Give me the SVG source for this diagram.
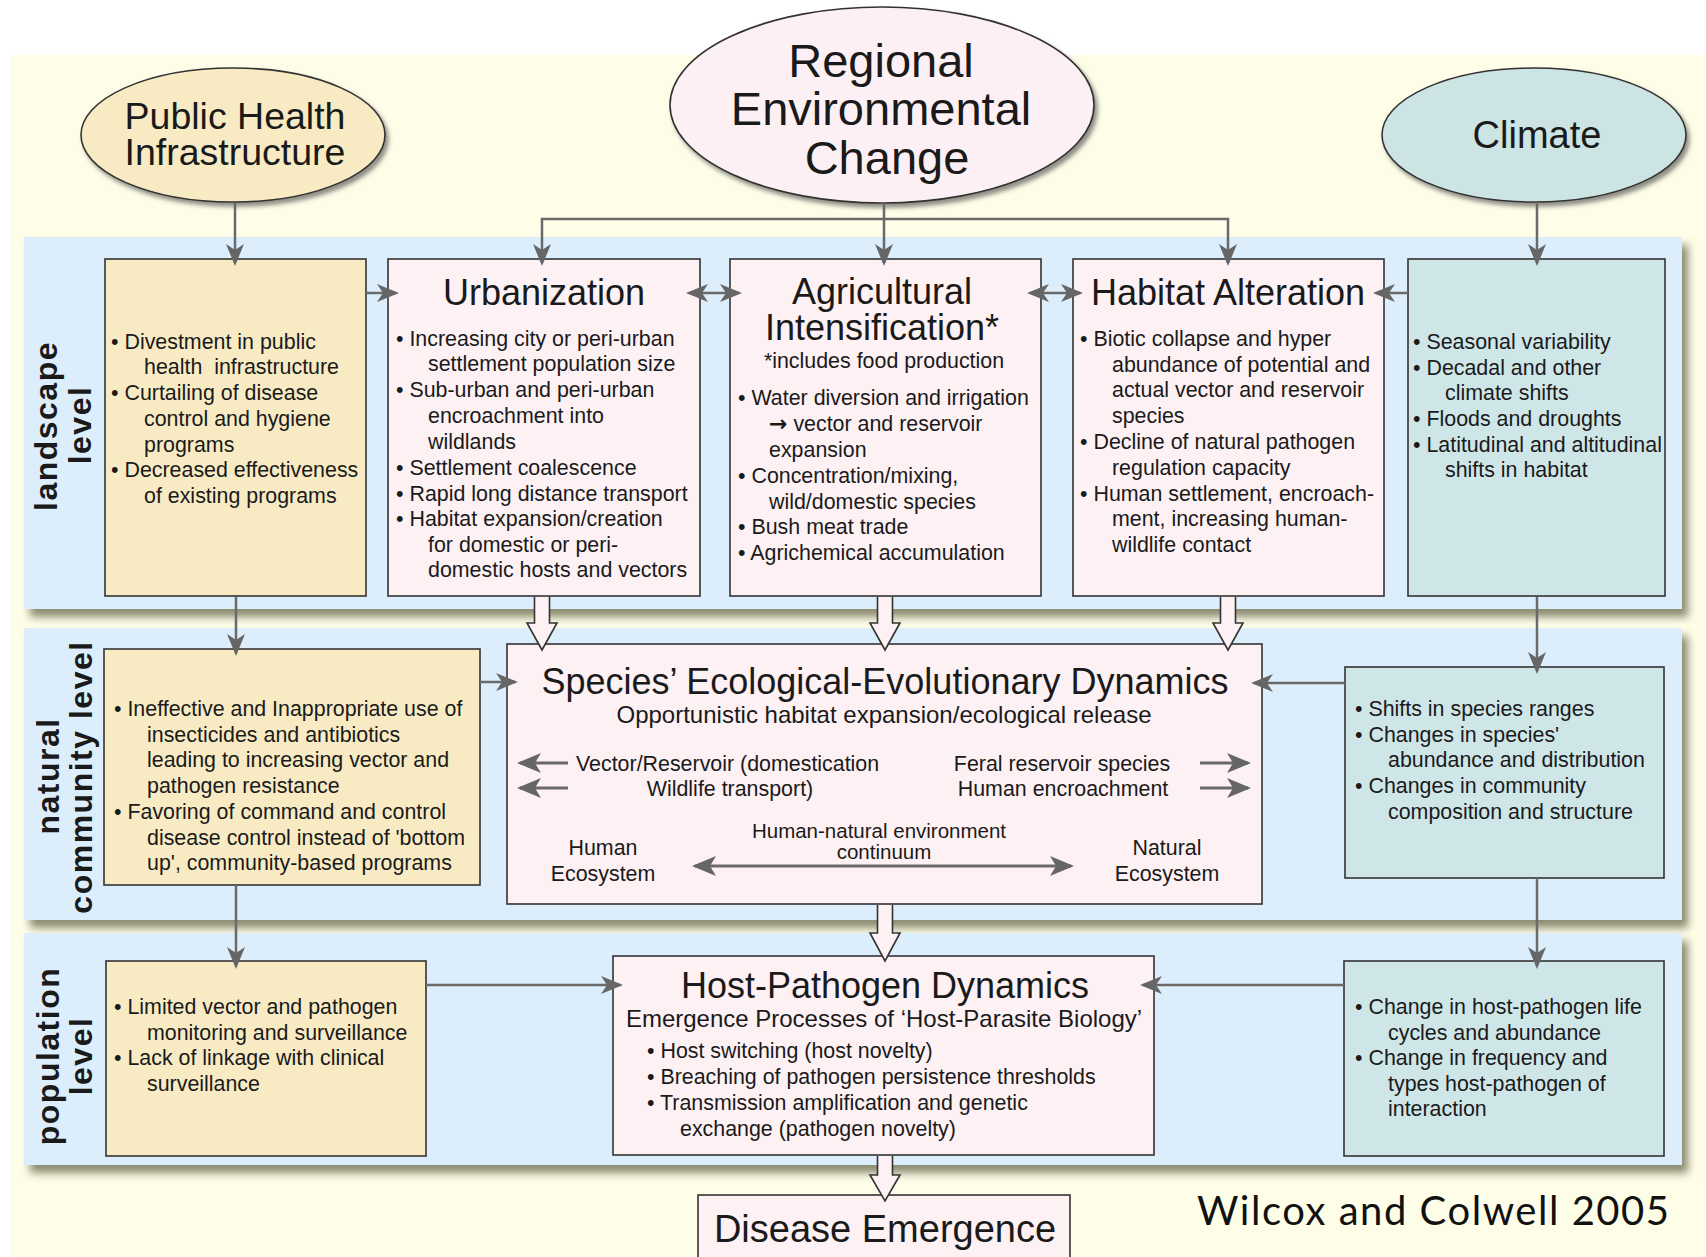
<svg xmlns="http://www.w3.org/2000/svg" width="1706" height="1257" viewBox="0 0 1706 1257">
<defs>
  <style>
    .t{font-family:"Liberation Sans",Arial,Helvetica,sans-serif;fill:#1a1a1a}
    .b{font-size:21.4px}
    .h{font-size:36px;text-anchor:middle}
    .s{font-size:24px;text-anchor:middle}
    .m{text-anchor:middle}
    .lv{font-family:"Liberation Sans",Arial,Helvetica,sans-serif;font-weight:bold;font-size:32px;letter-spacing:1.5px;text-anchor:middle;fill:#1a1a1a}
    .band{fill:#DCEEFB}
    .ph{fill:#F8EBC4;stroke:#333;stroke-width:1.6}
    .pk{fill:#FDF1F4;stroke:#333;stroke-width:1.6}
    .cl{fill:#CFE6E8;stroke:#333;stroke-width:1.6}
    .ln{fill:none;stroke:#6a6a6a;stroke-width:2.5}
    .ln2{fill:none;stroke:#6a6a6a;stroke-width:3}
    .blk{fill:#FDF1F4;stroke:#333;stroke-width:1.6}
    .arr{font-family:"DejaVu Sans",sans-serif;font-weight:bold;font-size:22px}
  </style>
  <marker id="ah" viewBox="-22 -10 26 20" refX="0" refY="0" markerWidth="26" markerHeight="20" markerUnits="userSpaceOnUse" orient="auto-start-reverse">
    <path d="M3,0 L-19,-9 L-13,0 L-19,9 Z" fill="#666"/>
  </marker>
  <marker id="ah2" viewBox="-24 -11 28 22" refX="0" refY="0" markerWidth="28" markerHeight="22" markerUnits="userSpaceOnUse" orient="auto-start-reverse">
    <path d="M3,0 L-21,-10 L-15,0 L-21,10 Z" fill="#666"/>
  </marker>
  <filter id="bandShadow" x="-5%" y="-10%" width="115%" height="130%">
    <feDropShadow dx="6" dy="8" stdDeviation="4" flood-color="#6e6e55" flood-opacity="0.8"/>
  </filter>
  <filter id="ovalShadow" x="-10%" y="-10%" width="125%" height="130%">
    <feDropShadow dx="3" dy="4" stdDeviation="2" flood-color="#444" flood-opacity="0.6"/>
  </filter>
</defs>

<!-- page -->
<rect x="0" y="0" width="1706" height="1257" fill="#ffffff"/>
<rect x="11" y="55" width="1695" height="1202" fill="#FEFDE8"/>

<!-- level bands -->
<g id="bands">
  <rect class="band" x="24" y="237" width="1658" height="372" filter="url(#bandShadow)"/>
  <rect class="band" x="24" y="628" width="1658" height="292" filter="url(#bandShadow)"/>
  <rect class="band" x="24" y="933" width="1658" height="232" filter="url(#bandShadow)"/>
  <text class="lv" transform="translate(57,426) rotate(-90)">landscape</text>
  <text class="lv" transform="translate(91,425) rotate(-90)">level</text>
  <text class="lv" transform="translate(59,776) rotate(-90)">natural</text>
  <text class="lv" transform="translate(92,777) rotate(-90)">community level</text>
  <text class="lv" transform="translate(59,1056) rotate(-90)">population</text>
  <text class="lv" transform="translate(92,1056) rotate(-90)">level</text>
</g>

<!-- drivers -->
<g id="public-health">
  <ellipse cx="233" cy="135" rx="152" ry="67" fill="#F8EBC4" stroke="#333" stroke-width="1.6" filter="url(#ovalShadow)"/>
  <text class="t m" x="235" y="129" font-size="37.5">Public Health</text>
  <text class="t m" x="235" y="165" font-size="37.5">Infrastructure</text>
</g>
<g id="regional-change">
  <ellipse cx="882" cy="105" rx="212" ry="98" fill="#FDF0F4" stroke="#333" stroke-width="1.6" filter="url(#ovalShadow)"/>
  <text class="t m" x="881" y="77" font-size="47">Regional</text>
  <text class="t m" x="881" y="125" font-size="47">Environmental</text>
  <text class="t m" x="887" y="174" font-size="47">Change</text>
</g>
<g id="climate">
  <ellipse cx="1534" cy="135" rx="152" ry="67" fill="#CDE4E5" stroke="#333" stroke-width="1.6" filter="url(#ovalShadow)"/>
  <text class="t m" x="1537" y="148" font-size="38">Climate</text>
</g>

<!-- landscape level -->
<g id="ph-landscape">
  <rect class="ph" x="105" y="259" width="261" height="337"/>
  <g class="t b">
    <text x="111" y="349">• Divestment in public</text>
    <text x="144" y="374" xml:space="preserve">health  infrastructure</text>
    <text x="111" y="400">• Curtailing of disease</text>
    <text x="144" y="426">control and hygiene</text>
    <text x="144" y="452">programs</text>
    <text x="111" y="477">• Decreased effectiveness</text>
    <text x="144" y="503">of existing programs</text>
  </g>
</g>
<g id="urbanization">
  <rect class="pk" x="388" y="259" width="312" height="337"/>
  <text class="t h" x="544" y="305">Urbanization</text>
  <g class="t b">
    <text x="396" y="346">• Increasing city or peri-urban</text>
    <text x="428" y="371">settlement population size</text>
    <text x="396" y="397">• Sub-urban and peri-urban</text>
    <text x="428" y="423">encroachment into</text>
    <text x="428" y="449">wildlands</text>
    <text x="396" y="475">• Settlement coalescence</text>
    <text x="396" y="501">• Rapid long distance transport</text>
    <text x="396" y="526">• Habitat expansion/creation</text>
    <text x="428" y="552">for domestic or peri-</text>
    <text x="428" y="577">domestic hosts and vectors</text>
  </g>
</g>
<g id="agriculture">
  <rect class="pk" x="730" y="259" width="311" height="337"/>
  <text class="t h" x="882" y="304" font-size="35.5">Agricultural</text>
  <text class="t h" x="882" y="340" font-size="35.5">Intensification*</text>
  <text class="t b m" x="884" y="368">*includes food production</text>
  <g class="t b">
    <text x="738" y="405">• Water diversion and irrigation</text>
    <text x="769" y="431"><tspan class="arr">→</tspan> vector and reservoir</text>
    <text x="769" y="457">expansion</text>
    <text x="738" y="483">• Concentration/mixing,</text>
    <text x="769" y="509">wild/domestic species</text>
    <text x="738" y="534">• Bush meat trade</text>
    <text x="738" y="560">• Agrichemical accumulation</text>
  </g>
</g>
<g id="habitat">
  <rect class="pk" x="1073" y="259" width="311" height="337"/>
  <text class="t h" x="1228" y="305">Habitat Alteration</text>
  <g class="t b">
    <text x="1080" y="346">• Biotic collapse and hyper</text>
    <text x="1112" y="372">abundance of potential and</text>
    <text x="1112" y="397">actual vector and reservoir</text>
    <text x="1112" y="423">species</text>
    <text x="1080" y="449">• Decline of natural pathogen</text>
    <text x="1112" y="475">regulation capacity</text>
    <text x="1080" y="501">• Human settlement, encroach-</text>
    <text x="1112" y="526">ment, increasing human-</text>
    <text x="1112" y="552">wildlife contact</text>
  </g>
</g>
<g id="climate-landscape">
  <rect class="cl" x="1408" y="259" width="257" height="337"/>
  <g class="t b">
    <text x="1413" y="349">• Seasonal variability</text>
    <text x="1413" y="375">• Decadal and other</text>
    <text x="1445" y="400">climate shifts</text>
    <text x="1413" y="426">• Floods and droughts</text>
    <text x="1413" y="452">• Latitudinal and altitudinal</text>
    <text x="1445" y="477">shifts in habitat</text>
  </g>
</g>

<!-- natural community level -->
<g id="ph-community">
  <rect class="ph" x="104" y="649" width="376" height="236"/>
  <g class="t b">
    <text x="114" y="716">• Ineffective and Inappropriate use of</text>
    <text x="147" y="742">insecticides and antibiotics</text>
    <text x="147" y="767">leading to increasing vector and</text>
    <text x="147" y="793">pathogen resistance</text>
    <text x="114" y="819">• Favoring of command and control</text>
    <text x="147" y="845">disease control instead of 'bottom</text>
    <text x="147" y="870">up', community-based programs</text>
  </g>
</g>
<g id="species-dynamics">
  <rect class="pk" x="507" y="644" width="755" height="260"/>
  <text class="t h" x="885" y="694" font-size="36.5">Species’ Ecological-Evolutionary Dynamics</text>
  <text class="t s" x="884" y="723">Opportunistic habitat expansion/ecological release</text>
  <g class="t b">
    <text x="576" y="771">Vector/Reservoir (domestication</text>
    <text class="m" x="730" y="796">Wildlife transport)</text>
    <text class="m" x="1062" y="771">Feral reservoir species</text>
    <text class="m" x="1063" y="796">Human encroachment</text>
    <text class="m" x="879" y="838" font-size="20.5">Human-natural environment</text>
    <text class="m" x="884" y="859" font-size="20.5">continuum</text>
    <text class="m" x="603" y="855">Human</text>
    <text class="m" x="603" y="881">Ecosystem</text>
    <text class="m" x="1167" y="855">Natural</text>
    <text class="m" x="1167" y="881">Ecosystem</text>
  </g>
</g>
<g id="climate-community">
  <rect class="cl" x="1345" y="667" width="319" height="211"/>
  <g class="t b">
    <text x="1355" y="716">• Shifts in species ranges</text>
    <text x="1355" y="742">• Changes in species'</text>
    <text x="1388" y="767">abundance and distribution</text>
    <text x="1355" y="793">• Changes in community</text>
    <text x="1388" y="819">composition and structure</text>
  </g>
</g>

<!-- population level -->
<g id="ph-population">
  <rect class="ph" x="106" y="961" width="320" height="195"/>
  <g class="t b">
    <text x="114" y="1014">• Limited vector and pathogen</text>
    <text x="147" y="1040">monitoring and surveillance</text>
    <text x="114" y="1065">• Lack of linkage with clinical</text>
    <text x="147" y="1091">surveillance</text>
  </g>
</g>
<g id="host-pathogen">
  <rect class="pk" x="613" y="956" width="541" height="199"/>
  <text class="t h" x="885" y="998">Host-Pathogen Dynamics</text>
  <text class="t s" x="884" y="1027">Emergence Processes of ‘Host-Parasite Biology’</text>
  <g class="t b">
    <text x="647" y="1058">• Host switching (host novelty)</text>
    <text x="647" y="1084">• Breaching of pathogen persistence thresholds</text>
    <text x="647" y="1110">• Transmission amplification and genetic</text>
    <text x="680" y="1136">exchange (pathogen novelty)</text>
  </g>
</g>
<g id="climate-population">
  <rect class="cl" x="1344" y="961" width="320" height="195"/>
  <g class="t b">
    <text x="1355" y="1014">• Change in host-pathogen life</text>
    <text x="1388" y="1040">cycles and abundance</text>
    <text x="1355" y="1065">• Change in frequency and</text>
    <text x="1388" y="1091">types host-pathogen of</text>
    <text x="1388" y="1116">interaction</text>
  </g>
</g>

<!-- outcome -->
<g id="disease-emergence">
  <rect class="pk" x="698" y="1195" width="372" height="75"/>
  <text class="t m" x="885" y="1242" font-size="38">Disease Emergence</text>
</g>

<text id="credit" x="1197" y="1225" font-family="Lato,'Open Sans',sans-serif" font-size="40" fill="#111" textLength="472">Wilcox and Colwell 2005</text>

<!-- links between nodes -->
<g id="connectors">
  <path class="ln" d="M235,203 V263" marker-end="url(#ah)"/>
  <path class="ln" d="M542,263 V219 H1228 V263" marker-start="url(#ah)" marker-end="url(#ah)"/>
  <path class="ln" d="M884,203 V263" marker-end="url(#ah)"/>
  <path class="ln" d="M1537,202 V263" marker-end="url(#ah)"/>

  <path class="ln" d="M366,293 H396" marker-end="url(#ah)"/>
  <path class="ln" d="M689,293 H739" marker-start="url(#ah)" marker-end="url(#ah)"/>
  <path class="ln" d="M1030,293 H1080" marker-start="url(#ah)" marker-end="url(#ah)"/>
  <path class="ln" d="M1408,293 H1376" marker-end="url(#ah)"/>

  <path class="ln" d="M236,597 V653" marker-end="url(#ah)"/>
  <path class="ln" d="M236,885 V966" marker-end="url(#ah)"/>
  <path class="ln" d="M1537,597 V671" marker-end="url(#ah)"/>
  <path class="ln" d="M1537,878 V966" marker-end="url(#ah)"/>

  <path class="ln" d="M480,682 H515" marker-end="url(#ah)"/>
  <path class="ln" d="M1345,683 H1254" marker-end="url(#ah)"/>
  <path class="ln" d="M426,985 H620" marker-end="url(#ah)"/>
  <path class="ln" d="M1344,985 H1143" marker-end="url(#ah)"/>

  <!-- hollow flow arrows -->
  <path class="blk" d="M534.5,597 V623 H527 L542,650 L557,623 H549.5 V597"/>
  <path class="blk" d="M877.5,597 V623 H870 L885,650 L900,623 H892.5 V597"/>
  <path class="blk" d="M1220.5,597 V623 H1213 L1228,650 L1243,623 H1235.5 V597"/>
  <path class="blk" d="M877.5,905 V933 H870 L885,961 L900,933 H892.5 V905"/>
  <path class="blk" d="M877.5,1156 V1175 H870 L885,1201 L900,1175 H892.5 V1156"/>

  <!-- arrows inside the species box -->
  <path class="ln2" d="M568,763 H520" marker-end="url(#ah2)"/>
  <path class="ln2" d="M568,788 H520" marker-end="url(#ah2)"/>
  <path class="ln2" d="M1200,763 H1248" marker-end="url(#ah2)"/>
  <path class="ln2" d="M1200,788 H1248" marker-end="url(#ah2)"/>
  <path class="ln2" d="M695,866 H1071" marker-start="url(#ah2)" marker-end="url(#ah2)"/>
</g>
</svg>
